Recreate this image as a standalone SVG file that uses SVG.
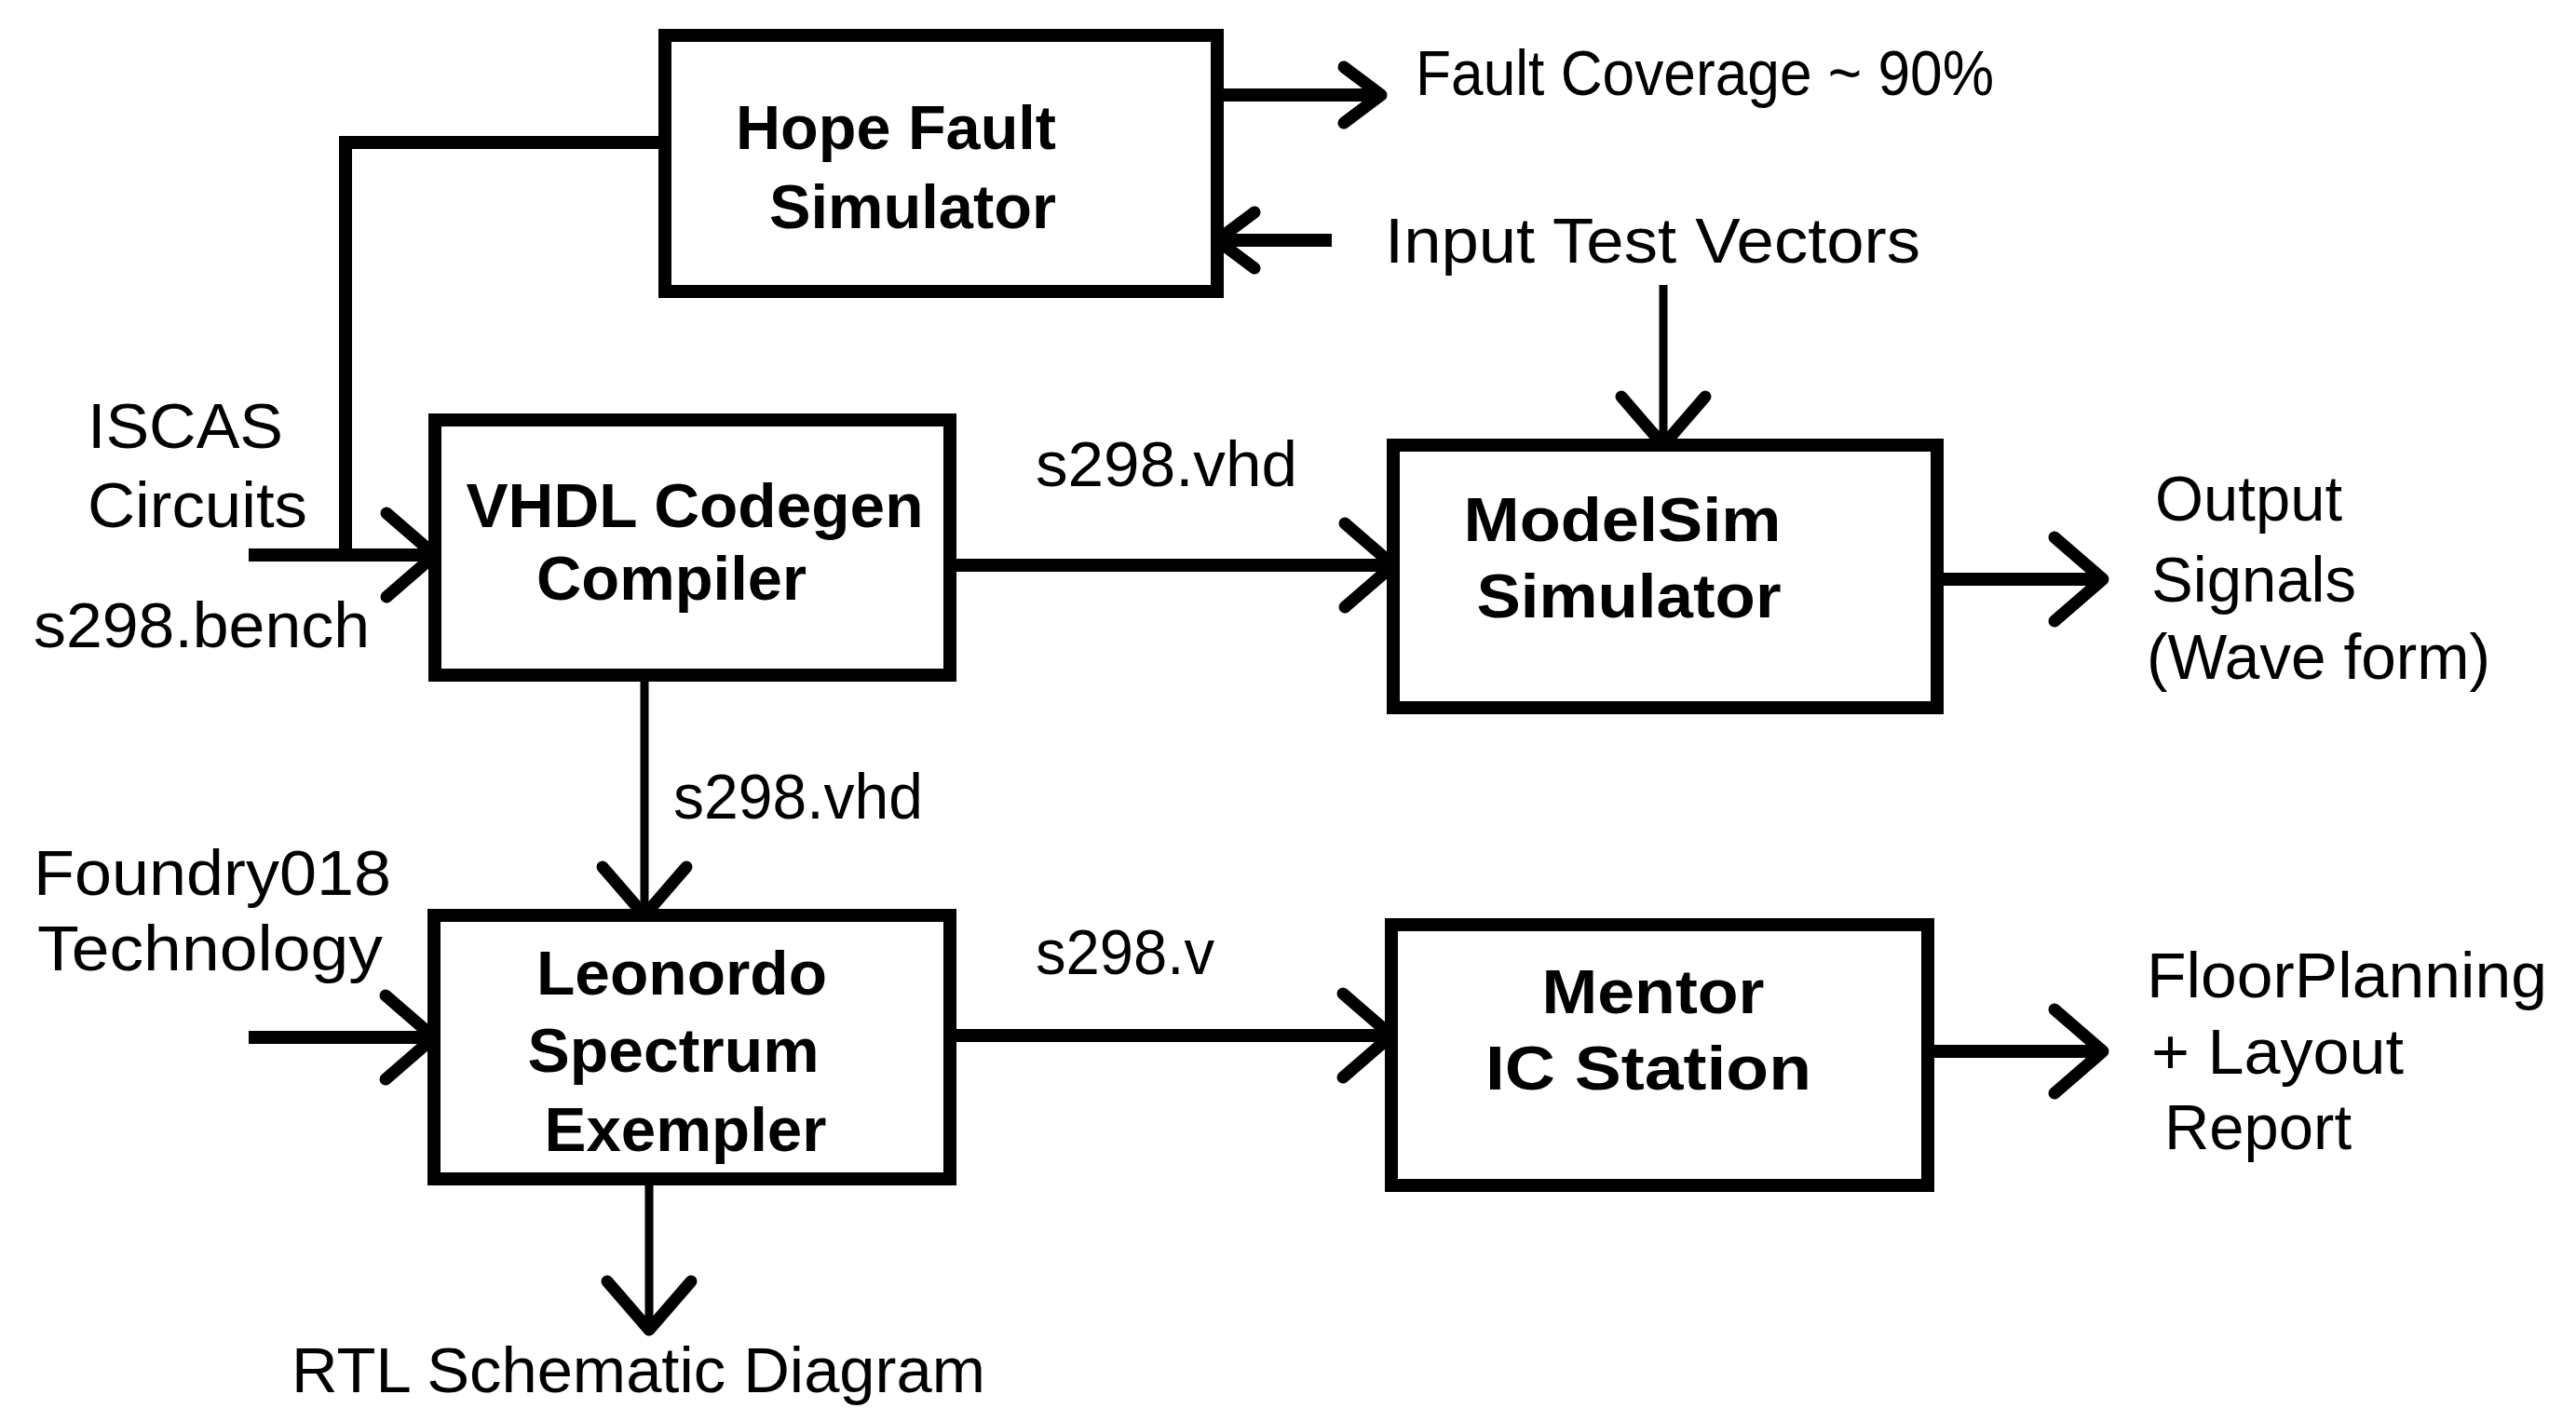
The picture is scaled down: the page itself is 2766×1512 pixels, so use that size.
<svg xmlns="http://www.w3.org/2000/svg" width="2766" height="1512" viewBox="0 0 2766 1512">
<style>
.box{fill:none;stroke:#000;stroke-width:14}
.c{fill:none;stroke:#000;stroke-width:14}
.t{fill:none;stroke:#000;stroke-width:9}
.lbl{font-family:"Liberation Sans",Arial,sans-serif;font-size:68px;fill:#000}
.nd{font-family:"Liberation Sans",Arial,sans-serif;font-size:66px;font-weight:bold;fill:#000;text-anchor:middle}
</style>
<defs>
<marker id="ab" markerUnits="userSpaceOnUse" orient="auto" refX="0" refY="0" markerWidth="1" markerHeight="1" overflow="visible">
<path d="M-52,-45 L0,0 L-52,45" fill="none" stroke="#000" stroke-width="13" stroke-linecap="round" stroke-linejoin="round"/>
</marker>
<marker id="as" markerUnits="userSpaceOnUse" orient="auto" refX="0" refY="0" markerWidth="1" markerHeight="1" overflow="visible">
<path d="M-40,-30 L0,0 L-40,30" fill="none" stroke="#000" stroke-width="13" stroke-linecap="round" stroke-linejoin="round"/>
</marker>
</defs>
<rect width="2766" height="1512" fill="#fff"/>

<g id="connectors">
<path class="c" d="M714,153 L371,153 L371,596"/>
<path class="c" d="M267,596 L467,596" marker-end="url(#ab)"/>
<path class="c" d="M1022,607 L1496,607" marker-end="url(#ab)"/>
<path class="c" d="M1307,102 L1483,102" marker-end="url(#as)"/>
<path class="c" d="M1430,258 L1307,258" marker-end="url(#as)"/>
<path class="t" d="M1786,306 L1786,478" marker-end="url(#ab)"/>
<path class="c" d="M2080,622 L2258,622" marker-end="url(#ab)"/>
<path class="t" d="M692,725 L692,983" marker-end="url(#ab)"/>
<path class="c" d="M267,1114 L466,1114" marker-end="url(#ab)"/>
<path class="c" d="M1020,1112 L1494,1112" marker-end="url(#ab)"/>
<path class="c" d="M2070,1129 L2258,1129" marker-end="url(#ab)"/>
<path class="t" d="M697,1266 L697,1428" marker-end="url(#ab)"/>
</g>

<g id="hope">
<rect class="box" x="714" y="38" width="593" height="275"/>
<text class="nd" x="962" y="160" textLength="344" lengthAdjust="spacingAndGlyphs">Hope Fault</text>
<text class="nd" x="980" y="245" textLength="308" lengthAdjust="spacingAndGlyphs">Simulator</text>
</g>

<g id="vhdl">
<rect class="box" x="467" y="451" width="553" height="274"/>
<text class="nd" x="746" y="566" textLength="491" lengthAdjust="spacingAndGlyphs">VHDL Codegen</text>
<text class="nd" x="721" y="644" textLength="290" lengthAdjust="spacingAndGlyphs">Compiler</text>
</g>

<g id="modelsim">
<rect class="box" x="1496" y="478" width="584" height="282"/>
<text class="nd" x="1742" y="581" textLength="341" lengthAdjust="spacingAndGlyphs">ModelSim</text>
<text class="nd" x="1749" y="663" textLength="327" lengthAdjust="spacingAndGlyphs">Simulator</text>
</g>

<g id="leonardo">
<rect class="box" x="466" y="983" width="554" height="283"/>
<text class="nd" x="732" y="1068" textLength="312" lengthAdjust="spacingAndGlyphs">Leonordo</text>
<text class="nd" x="723" y="1151" textLength="313" lengthAdjust="spacingAndGlyphs">Spectrum</text>
<text class="nd" x="736" y="1236" textLength="303" lengthAdjust="spacingAndGlyphs">Exempler</text>
</g>

<g id="mentor">
<rect class="box" x="1494" y="993" width="576" height="280"/>
<text class="nd" x="1775" y="1088" textLength="239" lengthAdjust="spacingAndGlyphs">Mentor</text>
<text class="nd" x="1770" y="1170" textLength="350" lengthAdjust="spacingAndGlyphs">IC Station</text>
</g>

<g id="labels">
<text class="lbl" x="1520" y="102" font-size="58" textLength="621" lengthAdjust="spacingAndGlyphs">Fault Coverage ~ 90%</text>
<text class="lbl" x="1487" y="282" textLength="575" lengthAdjust="spacingAndGlyphs">Input Test Vectors</text>
<text class="lbl" x="94" y="481" textLength="210" lengthAdjust="spacingAndGlyphs">ISCAS</text>
<text class="lbl" x="94" y="566" textLength="236" lengthAdjust="spacingAndGlyphs">Circuits</text>
<text class="lbl" x="36" y="695" textLength="361" lengthAdjust="spacingAndGlyphs">s298.bench</text>
<text class="lbl" x="1112" y="522" textLength="281" lengthAdjust="spacingAndGlyphs">s298.vhd</text>
<text class="lbl" x="2314" y="559" textLength="201" lengthAdjust="spacingAndGlyphs">Output</text>
<text class="lbl" x="2310" y="646" textLength="220" lengthAdjust="spacingAndGlyphs">Signals</text>
<text class="lbl" x="2305" y="729" textLength="369" lengthAdjust="spacingAndGlyphs">(Wave form)</text>
<text class="lbl" x="723" y="879" textLength="268" lengthAdjust="spacingAndGlyphs">s298.vhd</text>
<text class="lbl" x="36" y="961" textLength="384" lengthAdjust="spacingAndGlyphs">Foundry018</text>
<text class="lbl" x="40" y="1042" textLength="371" lengthAdjust="spacingAndGlyphs">Technology</text>
<text class="lbl" x="1112" y="1046" textLength="192" lengthAdjust="spacingAndGlyphs">s298.v</text>
<text class="lbl" x="2305" y="1071" textLength="430" lengthAdjust="spacingAndGlyphs">FloorPlanning</text>
<text class="lbl" x="2310" y="1153" textLength="271" lengthAdjust="spacingAndGlyphs">+ Layout</text>
<text class="lbl" x="2324" y="1234" textLength="201" lengthAdjust="spacingAndGlyphs">Report</text>
<text class="lbl" x="313" y="1495" textLength="745" lengthAdjust="spacingAndGlyphs">RTL Schematic Diagram</text>
</g>
</svg>
